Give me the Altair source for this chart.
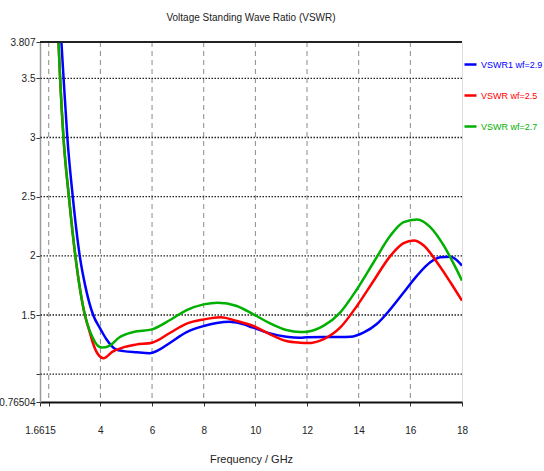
import altair as alt
import pandas as pd

# ---- data ----
series_names = ["VSWR1 wf=2.9", "VSWR wf=2.5", "VSWR wf=2.7"]
series_colors = ["#0000ff", "#ff0000", "#00b000"]

blue_x = [2.38, 2.49, 2.575, 2.72, 2.93, 3.2, 3.42, 3.72, 4.0, 4.22, 4.6, 4.9,
          5.4, 5.9, 6.3, 6.7, 7.34, 8.0, 8.5, 9.0, 9.4, 9.92, 10.57, 11.2, 11.73,
          12.0, 12.65, 13.3, 13.68, 14.2, 14.7, 15.23, 15.74, 16.26, 16.77, 17.16,
          17.55, 18.0]
blue_y = [4.3, 3.807, 3.5, 3.0, 2.5, 2.0, 1.74, 1.5, 1.383, 1.30, 1.21, 1.195,
          1.185, 1.178, 1.21, 1.266, 1.356, 1.407, 1.432, 1.443, 1.43, 1.393, 1.345,
          1.317, 1.308, 1.312, 1.314, 1.314, 1.316, 1.353, 1.424, 1.55, 1.69, 1.833,
          1.946, 1.989, 1.992, 1.918]

red_x = [2.25, 2.377, 2.44, 2.57, 2.78, 3.03, 3.4, 3.58, 3.7, 3.9, 4.12, 4.47,
         4.86, 5.37, 6.0, 6.7, 7.34, 8.0, 8.65, 9.28, 9.92, 10.57, 11.2, 11.73,
         12.0, 12.65, 13.29, 13.94, 14.58, 15.23, 15.74, 16.13, 16.52, 17.03,
         17.55, 18.0]
red_y = [4.5, 3.807, 3.5, 3.0, 2.5, 2.0, 1.5, 1.36, 1.27, 1.17, 1.135, 1.19,
         1.225, 1.25, 1.266, 1.35, 1.427, 1.463, 1.482, 1.449, 1.407, 1.337, 1.28,
         1.266, 1.263, 1.297, 1.395, 1.579, 1.79, 2.0, 2.107, 2.13, 2.088, 1.946,
         1.777, 1.621]

green_x = [2.25, 2.377, 2.44, 2.57, 2.78, 3.03, 3.4, 3.58, 3.7, 3.9, 4.05, 4.35,
           4.73, 5.28, 6.0, 6.7, 7.34, 8.0, 8.55, 9.28, 9.92, 10.57, 11.2, 11.73,
           12.0, 12.65, 13.29, 13.94, 14.58, 15.23, 15.74, 16.26, 16.77, 17.29,
           17.68, 18.0]
green_y = [4.5, 3.807, 3.5, 3.0, 2.5, 2.0, 1.5, 1.37, 1.31, 1.24, 1.225, 1.24,
           1.31, 1.356, 1.379, 1.458, 1.542, 1.59, 1.604, 1.576, 1.506, 1.43, 1.373,
           1.356, 1.359, 1.41, 1.523, 1.72, 1.946, 2.172, 2.285, 2.308, 2.243, 2.088,
           1.932, 1.791]

x_min, x_max = 1.6615, 18.0
y_min, y_max = 0.76504, 3.807
x_ticks = [1.6615, 2, 4, 6, 8, 10, 12, 14, 16, 18]
x_grid = [2, 4, 6, 8, 10, 12, 14, 16]
y_ticks = [0.76504, 1, 1.5, 2, 2.5, 3, 3.5, 3.807]
y_grid = [1, 1.5, 2, 2.5, 3, 3.5]

title_text = "Voltage Standing Wave Ratio (VSWR)"
x_title = "Frequency / GHz"

# ---- build table ----
rows = []
for name, xs_, ys_ in zip(series_names, [blue_x, red_x, green_x], [blue_y, red_y, green_y]):
    for i, (xv, yv) in enumerate(zip(xs_, ys_)):
        rows.append({"series": name, "freq": xv, "vswr": yv, "i": i})
df = pd.DataFrame(rows)

FONT = "Liberation Sans"

xs = alt.Scale(domain=[x_min, x_max], nice=False, zero=False)
ys = alt.Scale(domain=[y_min, y_max], nice=False, zero=False)

x_axis = alt.Axis(
    values=x_ticks,
    labelExpr="datum.value == 2 ? '' : '' + datum.value",
    grid=False, domainColor="#111111", domainWidth=2,
    tickColor="#333333", tickSize=4, labelFont=FONT, labelFontSize=10,
    labelColor="#222222", labelPadding=19, labelOverlap=False, labelFlush=False,
    title=x_title, titleFont=FONT, titleFontSize=11, titleFontWeight="normal",
    titleColor="#222222", titlePadding=18,
)
y_axis = alt.Axis(
    values=y_ticks,
    labelExpr="datum.value == 1 ? '' : '' + datum.value",
    grid=False, domainColor="#9a9a9a", domainWidth=1.5,
    tickColor="#333333", tickSize=4, labelFont=FONT, labelFontSize=10,
    labelColor="#222222", labelPadding=1, labelOverlap=False, labelFlush=False,
    title=None,
)

vgrid = alt.Chart(pd.DataFrame({"freq": x_grid})).mark_rule(
    color="#8a8a8a", strokeDash=[5, 4], strokeWidth=1
).encode(x=alt.X("freq:Q", scale=xs, axis=x_axis))

hgrid = alt.Chart(pd.DataFrame({"vswr": y_grid})).mark_rule(
    color="#222222", strokeDash=[1.5, 1.5], strokeWidth=1.3
).encode(y=alt.Y("vswr:Q", scale=ys, axis=y_axis))

top_border = alt.Chart(pd.DataFrame({"vswr": [y_max]})).mark_rule(
    color="#222222", strokeWidth=2
).encode(y=alt.Y("vswr:Q", scale=ys, axis=y_axis))

lines = alt.Chart(df).mark_line(
    strokeWidth=2.5, interpolate="monotone", clip=True
).encode(
    x=alt.X("freq:Q", scale=xs, axis=x_axis),
    y=alt.Y("vswr:Q", scale=ys, axis=y_axis),
    color=alt.Color("series:N", scale=alt.Scale(domain=series_names, range=series_colors),
                    sort=series_names,
                    legend=alt.Legend(
                        title=None, orient="none", legendX=423, legendY=15,
                        symbolType="stroke", symbolSize=144, symbolStrokeWidth=2.5,
                        labelFont=FONT, labelFontSize=9, rowPadding=18, labelOffset=3,
                        padding=0, labelLimit=200,
                        labelColor={"expr": "scale('color', datum.value)"},
                    )),
    order="i:Q",
)

chart = alt.layer(vgrid, hgrid, lines, top_border).properties(
    width=422, height=360,
    title=alt.TitleParams(title_text, font=FONT, fontSize=10, fontWeight="normal",
                          color="#222222", anchor="middle", offset=14),
    autosize=alt.AutoSizeParams(type="none"),
    padding={"left": 40, "top": 42, "right": 82, "bottom": 69},
).configure_view(stroke="#9a9a9a", strokeWidth=1.5).configure(background="white")

chart.save("out.html", embed_options={"renderer": "svg", "actions": False})
